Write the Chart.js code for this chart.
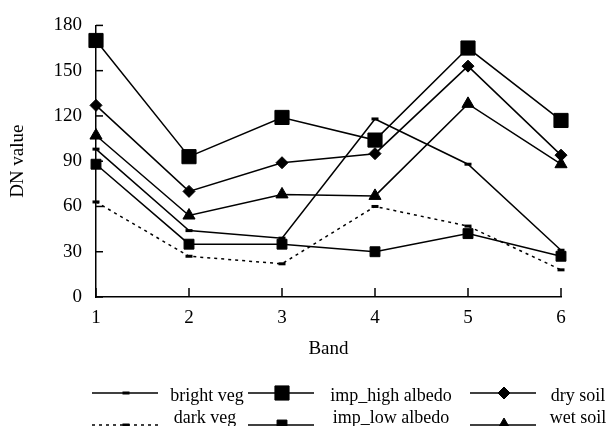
<!DOCTYPE html>
<html>
<head>
<meta charset="utf-8">
<script src="https://cdn.jsdelivr.net/npm/chart.js@4.4.1/dist/chart.umd.min.js"></script>
<style>
  html, body { margin: 0; padding: 0; background: #fff; }
  #wrap { width: 611px; height: 426px; }
</style>
</head>
<body>
<div id="wrap"><canvas id="lineChart" width="611" height="426"></canvas></div>
<script>
var bands = ['1', '2', '3', '4', '5', '6'];
var yTicks = [0, 30, 60, 90, 120, 150, 180];

var brightVeg = [98, 44, 39, 118, 88, 31];
var darkVeg = [63, 27, 22, 60, 47, 18];
var impHigh = [170, 93, 119, 104, 165, 117];
var impLow = [88, 35, 35, 30, 42, 27];
var drySoil = [127, 70, 89, 95, 153, 94];
var wetSoil = [107, 54, 68, 67, 128, 88];

var serif = "'Liberation Serif', 'Times New Roman', serif";

function series(label, data, style, radius, dash) {
    return {
        label: label,
        data: data,
        borderColor: '#000',
        backgroundColor: '#000',
        borderWidth: 1.5,
        borderDash: dash || [],
        pointStyle: style,
        pointRadius: radius,
        pointHoverRadius: radius,
        pointBorderWidth: style === 'line' ? 3 : 1,
        pointBackgroundColor: '#000',
        pointBorderColor: '#000',
        tension: 0,
        clip: false
    };
}

var datasets = [
    series('bright veg', brightVeg, 'line', 3.5),
    series('dark veg', darkVeg, 'line', 3.5, [3, 4]),
    series('imp_high albedo', impHigh, 'rect', 10),
    series('imp_low albedo', impLow, 'rect', 7),
    series('dry soil', drySoil, 'rectRot', 6),
    series('wet soil', wetSoil, 'triangle', 7)
];

// inward tick marks on both axes
var innerTicks = {
    id: 'innerTicks',
    afterDraw: function (chart) {
        var ctx = chart.ctx;
        var xs = chart.scales.x, ys = chart.scales.y;
        var area = chart.chartArea;
        ctx.save();
        ctx.strokeStyle = '#000';
        ctx.lineWidth = 1.5;
        yTicks.forEach(function (v) {
            var py = ys.getPixelForValue(v);
            ctx.beginPath();
            ctx.moveTo(area.left, py);
            ctx.lineTo(area.left + 7, py);
            ctx.stroke();
        });
        bands.forEach(function (b, i) {
            var px = xs.getPixelForValue(i);
            ctx.beginPath();
            ctx.moveTo(px, area.bottom);
            ctx.lineTo(px, area.bottom - 9);
            ctx.stroke();
        });
        ctx.restore();
    }
};

// legend: line sample with marker, label to the right, two rows
var legendItems = [
    { ds: 0, x: 92, y: 393, tx: 207, ty: 401 },
    { ds: 2, x: 248, y: 393, tx: 391, ty: 401 },
    { ds: 4, x: 470, y: 393, tx: 578, ty: 401 },
    { ds: 1, x: 92, y: 425, tx: 205, ty: 423 },
    { ds: 3, x: 248, y: 425, tx: 391, ty: 423 },
    { ds: 5, x: 470, y: 425, tx: 578, ty: 423 }
];

var sampleLegend = {
    id: 'sampleLegend',
    afterDraw: function (chart) {
        var ctx = chart.ctx;
        ctx.save();
        ctx.font = '18px ' + serif;
        ctx.textAlign = 'center';
        ctx.textBaseline = 'alphabetic';
        legendItems.forEach(function (it) {
            var d = chart.data.datasets[it.ds];
            ctx.strokeStyle = '#000';
            ctx.fillStyle = '#000';
            ctx.lineWidth = 1.5;
            ctx.setLineDash(d.borderDash);
            ctx.beginPath();
            ctx.moveTo(it.x, it.y);
            ctx.lineTo(it.x + 66, it.y);
            ctx.stroke();
            ctx.setLineDash([]);
            ctx.lineWidth = d.pointBorderWidth;
            Chart.helpers.drawPoint(ctx, {
                pointStyle: d.pointStyle,
                radius: d.pointRadius,
                rotation: 0,
                borderWidth: d.pointBorderWidth
            }, it.x + 34, it.y);
            ctx.fillText(d.label, it.tx, it.ty);
        });
        ctx.restore();
    }
};

var ctx = document.getElementById('lineChart').getContext('2d');
var myLineChart = new Chart(ctx, {
    type: 'line',
    data: {
        labels: bands,
        datasets: datasets
    },
    options: {
        responsive: false,
        animation: false,
        events: [],
        layout: {
            padding: { left: 0, right: 50, top: 19, bottom: 63 }
        },
        plugins: {
            legend: { display: false },
            tooltip: { enabled: false }
        },
        scales: {
            x: {
                offset: false,
                grid: { display: false, drawTicks: false },
                border: { display: true, color: '#000', width: 1.5 },
                ticks: {
                    color: '#000',
                    padding: 10,
                    maxRotation: 0,
                    font: { family: serif, size: 19 }
                },
                title: {
                    display: true,
                    text: 'Band',
                    color: '#000',
                    padding: { top: 0, bottom: 3 },
                    font: { family: serif, size: 19 }
                },
                afterFit: function (scale) { scale.height = 66; }
            },
            y: {
                min: 0,
                max: 180,
                grid: { display: false, drawTicks: false },
                border: { display: true, color: '#000', width: 1.5 },
                ticks: {
                    stepSize: 30,
                    color: '#000',
                    padding: 14,
                    font: { family: serif, size: 19 }
                },
                title: {
                    display: true,
                    text: 'DN value',
                    color: '#000',
                    padding: { top: 7, bottom: 0 },
                    font: { family: serif, size: 19 }
                },
                afterFit: function (scale) { scale.width = 96; }
            }
        }
    },
    plugins: [innerTicks, sampleLegend]
});
</script>
</body>
</html>
